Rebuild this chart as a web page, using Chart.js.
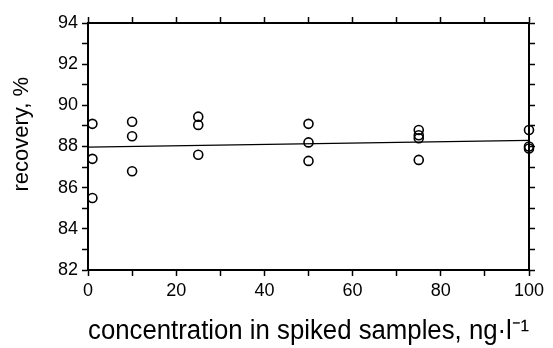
<!DOCTYPE html>
<html lang="en">
<head>
  <meta charset="UTF-8" />
  <title>Recovery vs concentration</title>
  <script src="https://cdn.jsdelivr.net/npm/chart.js"></script>
  <style>
    html, body { margin: 0; padding: 0; background: #fff; }
    #wrap { width: 553px; height: 348px; }
  </style>
</head>
<body>
  <div id="wrap"><canvas id="chart"></canvas></div>

  <script>
    // measured samples
    const concentration = [1, 1, 1, 10, 10, 10, 25, 25, 25, 50, 50, 50, 75, 75, 75, 75, 100, 100, 100];
    const recovery = [89.1, 87.4, 85.5, 89.2, 88.5, 86.8, 89.45, 89.05, 87.6, 89.1, 88.2, 87.3, 88.8, 88.55, 88.4, 87.35, 88.8, 88.0, 87.9];

    // regression line
    const fitX = [0, 100];
    const fitY = [87.97, 88.3];

    const xTicks = [0, 20, 40, 60, 80, 100];
    const yTicks = [82, 84, 86, 88, 90, 92, 94];

    const font = '"Liberation Sans", Arial, sans-serif';

    const points = concentration.map((x, i) => ({ x, y: recovery[i] }));
    const fit = fitX.map((x, i) => ({ x, y: fitY[i] }));

    const ctx = document.getElementById('chart').getContext('2d');
    new Chart(ctx, {
      type: 'scatter',
      data: {
        datasets: [{
          label: 'fit',
          type: 'line',
          data: fit,
          borderColor: '#000',
          borderWidth: 1.3,
          pointRadius: 0,
          fill: false,
        }, {
          label: 'recovery',
          data: points,
          pointStyle: 'circle',
          pointRadius: 4.5,
          pointBorderWidth: 1.6,
          borderColor: '#000',
          backgroundColor: 'rgba(255,255,255,0)',
          clip: false,
        }],
      },
      options: {
        responsive: true,
        maintainAspectRatio: false,
        animation: false,
        layout: { padding: 0 },
        plugins: { legend: { display: false }, tooltip: { enabled: false } },
        scales: {
          x: {
            type: 'linear', position: 'bottom', min: 0, max: 100,
            afterFit: (s) => { s.height = 78; },
            border: { color: '#000', width: 2 },
            grid: { drawOnChartArea: false, color: '#000', tickLength: 6, tickWidth: 1.5 },
            ticks: {
              stepSize: 10, autoSkip: false, maxRotation: 0, color: '#000', padding: 4,
              font: { family: font, size: 18 },
              callback: (v) => xTicks.includes(v) ? String(v) : '',
            },
            title: {
              display: true, text: 'concentration in spiked samples, ng·l⁻¹', color: '#000',
              font: { family: font, size: 27 }, padding: { top: 0, bottom: 0 },
            },
          },
          x2: {
            type: 'linear', position: 'top', min: 0, max: 100,
            afterFit: (s) => { s.height = 23; },
            border: { color: '#000', width: 2 },
            grid: { drawOnChartArea: false, color: '#000', tickLength: 6, tickWidth: 1.5 },
            ticks: { stepSize: 10, display: true, callback: () => '' },
          },
          y: {
            type: 'linear', position: 'left', min: 82, max: 94,
            afterFit: (s) => { s.width = 88; },
            border: { color: '#000', width: 2 },
            grid: { drawOnChartArea: false, color: '#000', tickLength: 6, tickWidth: 1.5 },
            ticks: {
              stepSize: 1, autoSkip: false, color: '#000', padding: 4,
              font: { family: font, size: 18 },
              callback: (v) => yTicks.includes(v) ? String(v) : '',
            },
            title: {
              display: true, text: '    recovery, %', color: '#000',
              font: { family: font, size: 22 }, padding: { top: 9, bottom: 0 },
            },
          },
          y2: {
            type: 'linear', position: 'right', min: 82, max: 94,
            afterFit: (s) => { s.width = 24; },
            border: { color: '#000', width: 2 },
            grid: { drawOnChartArea: false, color: '#000', tickLength: 6, tickWidth: 1.5 },
            ticks: { stepSize: 1, display: true, callback: () => '' },
          },
        },
      },
    });
  </script>
</body>
</html>
